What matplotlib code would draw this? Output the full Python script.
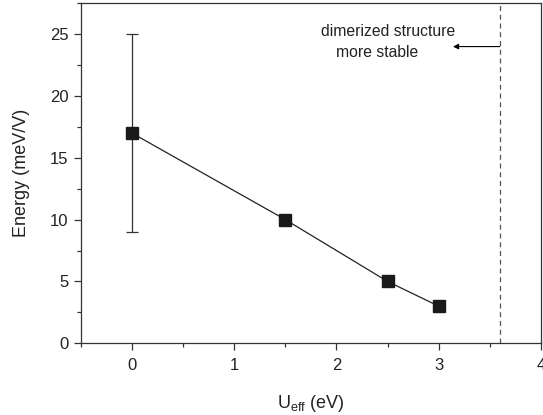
import matplotlib
matplotlib.use("Agg")
import matplotlib.pyplot as plt
from matplotlib.ticker import MultipleLocator

plt.rcParams['font.family'] = ['Liberation Sans', 'DejaVu Sans']

# data
u_eff = [0, 1.5, 2.5, 3]
energy = [17, 10, 5, 3]
err_lo = [8, 0, 0, 0]
err_hi = [8, 0, 0, 0]
boundary = 3.6

fig = plt.figure(figsize=(5.43, 4.15), dpi=100)
ax = fig.add_axes([0.149, 0.173, 0.847, 0.819])

ax.plot(u_eff, energy, color='#222222', lw=0.9, zorder=2)
ax.errorbar(u_eff[:1], energy[:1], yerr=[err_lo[:1], err_hi[:1]], fmt='none',
            ecolor='#333333', elinewidth=0.9, capsize=4, capthick=0.9, zorder=2)
ax.plot(u_eff, energy, ls='none', marker='s', ms=8.5, color='#1a1a1a', zorder=3)

ax.axvline(boundary, color='#555555', ls=(0, (4, 3)), lw=0.9)
ax.annotate('', xy=(3.14, 24), xytext=(boundary, 24),
            arrowprops=dict(arrowstyle='-|>', color='black', lw=0.8,
                            mutation_scale=8, shrinkA=0, shrinkB=0))
ax.text(2.51, 25.2, 'dimerized structure', ha='center', va='center', fontsize=11.3, color='#222222')
ax.text(2.40, 23.55, 'more stable', ha='center', va='center', fontsize=11.3, color='#222222')

ax.set_xlim(-0.5, 4)
ax.set_ylim(0, 27.5)
ax.xaxis.set_major_locator(MultipleLocator(1))
ax.xaxis.set_minor_locator(MultipleLocator(0.5))
ax.yaxis.set_major_locator(MultipleLocator(5))
ax.yaxis.set_minor_locator(MultipleLocator(2.5))
ax.tick_params(which='both', direction='out', top=False, right=False,
               labelsize=12, color='#333333', labelcolor='#222222')
ax.tick_params(which='major', length=5, width=0.9, pad=4)
ax.tick_params(which='minor', length=3, width=0.9)
ax.tick_params(axis='x', which='major', pad=6)
for s in ax.spines.values():
    s.set_linewidth(0.9)
    s.set_color('#333333')

ax.set_xlabel(r'U$_{\mathregular{eff}}$ (eV)', fontsize=13, color='#222222', labelpad=14)
ax.set_ylabel('Energy (meV/V)', fontsize=13, color='#222222', labelpad=14)

fig.savefig('out.png', dpi=100)
